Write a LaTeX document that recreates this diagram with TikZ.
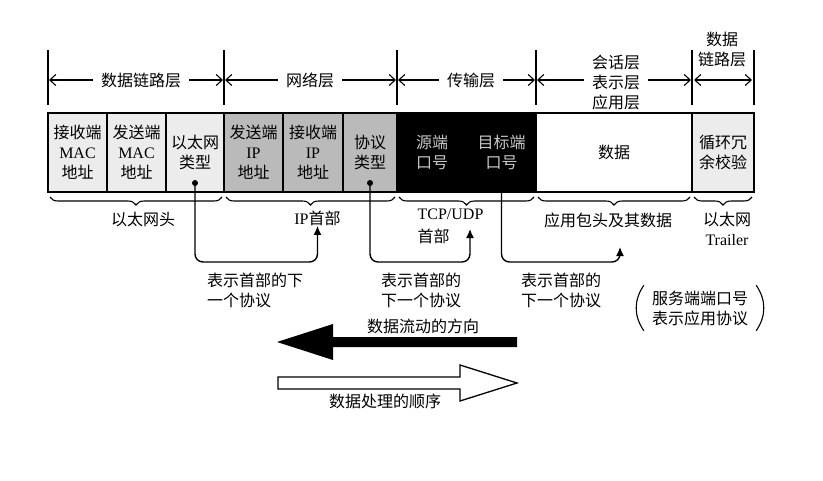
\documentclass[tikz,border=0pt]{standalone}
\usepackage{fontspec}
\setmainfont{Noto Sans CJK SC}
\newfontfamily\lat{Liberation Serif}
\usepackage{xcolor}
\usepackage{tikz}
\usetikzlibrary{arrows.meta, positioning, calc, decorations.pathreplacing}
\definecolor{fieldlight}{RGB}{236,236,236}
\definecolor{fieldgray}{RGB}{186,186,186}
\definecolor{fieldtext}{RGB}{200,200,200}
\tikzset{
  field/.style={
    rectangle, draw=black, line width=1.3pt, minimum height=79pt,
    inner sep=0pt, outer sep=0pt, anchor=north west, align=center
  },
  lightfield/.style={field, fill=fieldlight},
  grayfield/.style={field, fill=fieldgray},
  darkfield/.style={field, fill=black, text=fieldtext},
  plainfield/.style={field, fill=white},
  tickline/.style={line width=1.2pt},
  layerarrow/.style={-{Straight Barb[length=6pt,width=11pt]}, line width=1.1pt},
  layerlabel/.style={inner xsep=8pt, inner ysep=2pt, align=center},
  brace/.style={decorate, decoration={brace, mirror, amplitude=8pt}, line width=1.1pt},
  bracelabel/.style={inner sep=0pt, align=center},
  conn/.style={-{Latex[length=9pt,width=8pt]}, line width=1.4pt, rounded corners=8pt},
  dot/.style={circle, fill=black, inner sep=0pt, minimum size=6pt},
  note/.style={align=left, inner sep=0pt},
  paren/.style={line width=1.1pt}
}

\begin{document}
\begin{tikzpicture}[x=1pt, y=-1pt, font=\fontsize{16}{20}\selectfont]
    \useasboundingbox (0,0) rectangle (823,480);
    % frame fields
    \node[lightfield, minimum width=59pt] (dstmac) at (48,113) {接收端\\{\lat MAC}\\地址};
    \node[lightfield, minimum width=59pt] (srcmac) at (dstmac.north east) {发送端\\{\lat MAC}\\地址};
    \node[lightfield, minimum width=58pt] (ethtype) at (srcmac.north east) {以太网\\类型};
    \node[grayfield, minimum width=59pt] (srcip) at (ethtype.north east) {发送端\\{\lat IP}\\地址};
    \node[grayfield, minimum width=60pt] (dstip) at (srcip.north east) {接收端\\{\lat IP}\\地址};
    \node[grayfield, minimum width=54pt] (proto) at (dstip.north east) {协议\\类型};
    \node[darkfield, minimum width=70pt] (srcport) at (proto.north east) {源端\\口号};
    \node[darkfield, minimum width=69pt] (dstport) at (srcport.north east) {目标端\\口号};
    \node[plainfield, minimum width=156pt] (payload) at (dstport.north east) {数据};
    \node[lightfield, minimum width=62pt] (crc) at (payload.north east) {循环冗\\余校验};

    % layers on top
    \coordinate (t1) at (dstmac.north west |- 0,80);
    \coordinate (t2) at (srcip.north west |- 0,80);
    \coordinate (t3) at (srcport.north west |- 0,80);
    \coordinate (t4) at (payload.north west |- 0,80);
    \coordinate (t5) at (crc.north west |- 0,80);
    \coordinate (t6) at (crc.north east |- 0,80);
    \foreach \i in {1,...,6}
      \draw[tickline] ([yshift=30pt]t\i) -- ([yshift=-25pt]t\i);

    \node[layerlabel] (dlllbl) at (141,80) {数据链路层};
    \node[layerlabel] (netlbl) at (310,80) {网络层};
    \node[layerlabel] (translbl) at (471,80) {传输层};
    \node[layerlabel] (applbl) at (616,82) {会话层\\表示层\\应用层};
    \node[layerlabel] (dll2lbl) at (722,49) {数据\\链路层};

    \draw[layerarrow] (dlllbl.west |- t1) -- ([xshift=1pt]t1);
    \draw[layerarrow] (dlllbl.east |- t1) -- ([xshift=-1pt]t2);
    \draw[layerarrow] (netlbl.west |- t1) -- ([xshift=1pt]t2);
    \draw[layerarrow] (netlbl.east |- t1) -- ([xshift=-1pt]t3);
    \draw[layerarrow] (translbl.west |- t1) -- ([xshift=1pt]t3);
    \draw[layerarrow] (translbl.east |- t1) -- ([xshift=-1pt]t4);
    \draw[layerarrow] (applbl.west |- t1) -- ([xshift=1pt]t4);
    \draw[layerarrow] (applbl.east |- t1) -- ([xshift=-1pt]t5);
    \draw[layerarrow, {Straight Barb[length=6pt,width=11pt]}-{Straight Barb[length=6pt,width=11pt]}]
      ([xshift=2pt]t5) -- ([xshift=-2pt]t6);

    % braces below
    \draw[brace] ([xshift=2pt,yshift=-5pt]dstmac.south west) --
      node[bracelabel, below=15pt, xshift=7pt] (ethhdr) {以太网头}
      ([xshift=-2pt,yshift=-5pt]ethtype.south east);
    \draw[brace] ([xshift=2pt,yshift=-5pt]srcip.south west) --
      node[bracelabel, below=13pt, xshift=7pt] (iphdr) {{\lat IP}首部}
      ([xshift=-2pt,yshift=-5pt]proto.south east);
    \draw[brace] ([xshift=2pt,yshift=-5pt]srcport.south west) --
      node[bracelabel, align=left, below=11pt, xshift=-16pt] (tcphdr) {{\lat TCP/UDP}\\[3pt]首部}
      ([xshift=-2pt,yshift=-5pt]dstport.south east);
    \draw[brace] ([xshift=2pt,yshift=-5pt]payload.south west) --
      node[bracelabel, below=15pt, xshift=-6pt] (apphdr) {应用包头及其数据}
      ([xshift=-2pt,yshift=-5pt]payload.south east);
    \draw[brace] ([xshift=2pt,yshift=-5pt]crc.south west) --
      node[bracelabel, below=15pt, xshift=4pt] (trailer) {以太网\\{\lat Trailer}}
      ([xshift=-2pt,yshift=-5pt]crc.south east);

    % next-protocol pointers
    \coordinate (route) at (0,262);
    \coordinate (tcptip) at (470,229);
    \coordinate (apptip) at (620,247);
    \node[dot] (typedot) at ([yshift=9pt]ethtype.south) {};
    \node[dot] (protodot) at ([yshift=9pt]proto.south) {};
    \draw[conn] (typedot.center) -- (typedot |- route) -- (iphdr.south |- route) -- (iphdr.south);
    \draw[conn] (protodot.center) -- (protodot |- route) -- (tcptip |- route) -- (tcptip);
    \draw[conn] (dstport.south) -- (dstport.south |- route) -- (apptip |- route) -- (apptip);

    \node[note] (next1) at (255,290) {表示首部的下\\一个协议};
    \node[note] (next2) at (421,290) {表示首部的\\下一个协议};
    \node[note] (next3) at (561,290) {表示首部的\\下一个协议};

    \node[note, align=center, inner xsep=8pt, inner ysep=5pt] (svcport) at (700,308) {服务端端口号\\表示应用协议};
    \draw[paren] (svcport.north west) to[bend right=35] (svcport.south west);
    \draw[paren] (svcport.north east) to[bend left=35] (svcport.south east);

    % direction arrows
    \node (flowlbl) at (423,326) {数据流动的方向};
    \fill[black] (517,337) -- (333,337) -- (333,324) -- (277,342) -- (333,360)
      -- (333,347) -- (517,347) -- cycle;
    \draw[line width=1.3pt, fill=white] (278,377) -- (460,377) -- (460,365) -- (517,383)
      -- (460,401) -- (460,389) -- (278,389) -- cycle;
    \node (proclbl) at (385,401) {数据处理的顺序};
\end{tikzpicture}
\end{document}
